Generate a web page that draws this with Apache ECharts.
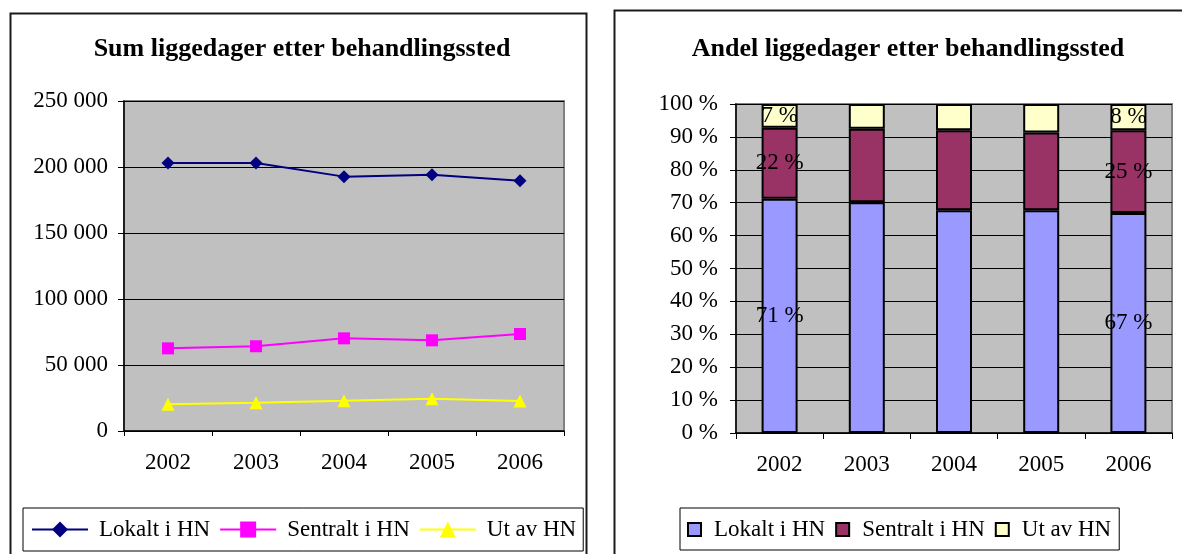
<!DOCTYPE html>
<html>
<head>
<meta charset="utf-8">
<script src="https://cdn.jsdelivr.net/npm/echarts@6/dist/echarts.min.js"></script>
<style>
  html, body { margin: 0; padding: 0; background: #fff; }
  #wrap { position: relative; width: 1182px; height: 554px; overflow: hidden; }
  #chart-sum { position: absolute; left: 0; top: 0; width: 596px; height: 554px; }
  #chart-share { position: absolute; left: 596px; top: 0; width: 586px; height: 554px; }
</style>
</head>
<body>
<div id="wrap">
  <div id="chart-sum"></div>
  <div id="chart-share"></div>
</div>
<script>
// ── data ──
const years = ['2002', '2003', '2004', '2005', '2006'];
const seriesNames = ['Lokalt i HN', 'Sentralt i HN', 'Ut av HN'];

// liggedager (sum)
const lokaltDays = [203000, 203000, 192700, 194200, 189600];
const sentraltDays = [62600, 64200, 70200, 68700, 73500];
const utDays = [20200, 21400, 22900, 24500, 22700];

// andel (prosent)
const lokaltShare = [71.2, 70.1, 67.7, 67.7, 66.9];
const sentraltShare = [21.6, 22.4, 24.3, 23.6, 25.1];
const utShare = [7.2, 7.5, 8.0, 8.7, 8.0];
const labelledYears = ['2002', '2006'];

const FONT = "'Liberation Serif', 'Times New Roman', serif";
const PLOT_BG = '#c0c0c0';
const FS = 23;

const spaced = v => String(v).replace(/\B(?=(\d{3})+(?!\d))/g, ' ');

function frame(x, y, w) {
  return {
    type: 'rect', left: x, top: y, silent: true, z: 100,
    shape: { x: 0, y: 0, width: w, height: 800 },
    style: { fill: 'none', stroke: '#1a1a1a', lineWidth: 2 },
  };
}

function axisX(tickLen) {
  return {
    type: 'category', data: years, boundaryGap: true,
    axisLine: { lineStyle: { color: '#000', width: 1.5 } },
    axisTick: { show: true, length: tickLen, lineStyle: { color: '#000' } },
    axisLabel: { color: '#000', fontFamily: FONT, fontSize: FS, margin: 20 },
    splitLine: { show: false },
  };
}

// Sum liggedager (line)
const sumChart = echarts.init(document.getElementById('chart-sum'));
const lineCols = ['#000080', '#ff00ff', '#ffff00'];
const lineSyms = ['diamond', 'rect', 'triangle'];
const lineSizes = [[13, 13], 12, 13];
sumChart.setOption({
  animation: false,
  backgroundColor: '#fff',
  title: {
    text: 'Sum liggedager etter behandlingssted',
    left: 297, top: 31, textAlign: 'center',
    textStyle: { fontFamily: FONT, fontSize: 26, fontWeight: 'bold', color: '#000' },
  },
  grid: {
    left: 124, top: 101, width: 440, height: 330,
    show: true, backgroundColor: PLOT_BG, borderColor: '#808080', borderWidth: 2,
  },
  xAxis: axisX(5),
  yAxis: {
    type: 'value', min: 0, max: 250000, interval: 50000,
    axisLine: { show: true, lineStyle: { color: '#000', width: 1.5 } },
    axisTick: { show: true, length: 6, lineStyle: { color: '#000' } },
    axisLabel: { color: '#000', fontFamily: FONT, fontSize: FS, margin: 16, formatter: spaced },
    splitLine: { lineStyle: { color: '#000', width: 1 } },
  },
  legend: {
    left: 23, top: 508, orient: 'horizontal',
    data: seriesNames,
    itemWidth: 56, itemHeight: 20, itemGap: 9,
    padding: [10, 7, 10, 8],
    borderColor: '#000', borderWidth: 1, backgroundColor: '#fff',
    textStyle: { fontFamily: FONT, fontSize: FS, color: '#000', padding: [0, 0, 0, 6] },
  },
  series: [lokaltDays, sentraltDays, utDays].map((d, i) => ({
    name: seriesNames[i], type: 'line', data: d,
    symbol: lineSyms[i], symbolSize: lineSizes[i], showAllSymbol: true,
    lineStyle: { color: lineCols[i], width: 2 },
    itemStyle: { color: lineCols[i] },
  })),
  graphic: [frame(8, 11, 576)],
});

// Andel liggedager (stacked bars)
const shareChart = echarts.init(document.getElementById('chart-share'));
const barCols = ['#9999ff', '#993366', '#ffffcc'];
shareChart.setOption({
  animation: false,
  backgroundColor: '#fff',
  title: {
    text: 'Andel liggedager etter behandlingssted',
    left: 307, top: 31, textAlign: 'center',
    textStyle: { fontFamily: FONT, fontSize: 26, fontWeight: 'bold', color: '#000' },
  },
  grid: {
    left: 140, top: 104, width: 436, height: 329,
    show: true, backgroundColor: PLOT_BG, borderColor: '#808080', borderWidth: 2,
  },
  xAxis: axisX(6),
  yAxis: {
    type: 'value', min: 0, max: 100, interval: 10,
    axisLine: { show: true, lineStyle: { color: '#000', width: 1.5 } },
    axisTick: { show: true, length: 6, lineStyle: { color: '#000' } },
    axisLabel: { color: '#000', fontFamily: FONT, fontSize: FS, margin: 18, formatter: '{value} %' },
    splitLine: { lineStyle: { color: '#000', width: 1 } },
  },
  legend: {
    left: 84, top: 508, orient: 'horizontal',
    data: seriesNames, icon: 'rect',
    itemWidth: 13, itemHeight: 13, itemGap: 10,
    padding: [10, 8, 9, 7],
    borderColor: '#000', borderWidth: 1, backgroundColor: '#fff',
    itemStyle: { borderColor: '#000', borderWidth: 2 },
    textStyle: { fontFamily: FONT, fontSize: FS, color: '#000', padding: [0, 0, 0, 8] },
  },
  series: [lokaltShare, sentraltShare, utShare].map((d, i) => ({
    name: seriesNames[i], type: 'bar', stack: 'andel', data: d,
    barWidth: 36,
    itemStyle: { color: barCols[i], borderColor: '#000', borderWidth: 2 },
    label: {
      show: true, position: 'inside', color: '#000', fontFamily: FONT, fontSize: FS,
      formatter: p => labelledYears.includes(p.name) ? Math.round(p.value) + ' %' : '',
    },
  })),
  graphic: [frame(16, 8, 2000)],
});
</script>
</body>
</html>
